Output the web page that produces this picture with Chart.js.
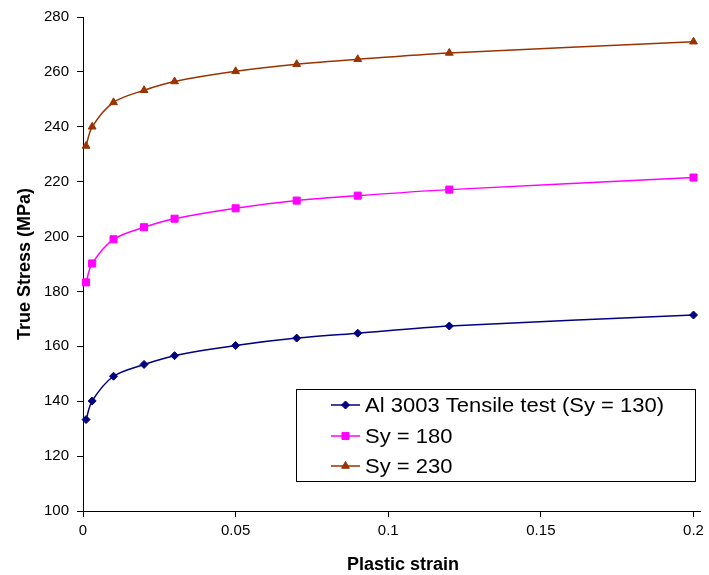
<!DOCTYPE html>
<html>
<head>
<meta charset="utf-8">
<title>Al 3003 true stress vs plastic strain</title>
<script src="https://cdn.jsdelivr.net/npm/chart.js@4/dist/chart.umd.min.js"></script>
<style>
  html, body { margin: 0; padding: 0; background: #fff; }
  #wrap { width: 709px; height: 575px; position: relative; }
</style>
</head>
<body>
<div id="wrap"><canvas id="c" width="709" height="575"></canvas></div>
<script>
// Plastic strain sample points shared by all three curves
const strain = [0.001, 0.003, 0.01, 0.02, 0.03, 0.05, 0.07, 0.09, 0.12, 0.2];

// True stress (MPa) for each yield-strength case
const stress130 = [133.3, 140.1, 149.1, 153.4, 156.6, 160.3, 163.0, 164.8, 167.4, 171.4];
const stress180 = [183.3, 190.2, 199.0, 203.4, 206.5, 210.3, 213.1, 214.9, 217.1, 221.5];
const stress230 = [233.0, 240.0, 248.9, 253.3, 256.5, 260.2, 262.8, 264.6, 266.9, 271.0];

const seriesNames = ['Al 3003 Tensile test (Sy = 130)', 'Sy = 180', 'Sy = 230'];

// Axis tick labels
const xTicks = [0, 0.05, 0.1, 0.15, 0.2];
const yTicks = [100, 120, 140, 160, 180, 200, 220, 240, 260, 280];

const xTitle = 'Plastic strain';
const yTitle = 'True Stress (MPa)';

const FONT = '"Liberation Sans", Arial, Helvetica, sans-serif';

function pairs(ys) {
  return strain.map((x, i) => ({ x: x, y: ys[i] }));
}

const styles = [
  { color: '#000080', pointStyle: 'rectRot', radius: 4 },
  { color: '#FF00FF', pointStyle: 'rect', radius: 5 },
  { color: '#993300', pointStyle: 'triangle', radius: 4.5 }
];
const seriesData = [stress130, stress180, stress230];

const datasets = seriesData.map((ys, i) => ({
  label: seriesNames[i],
  data: pairs(ys),
  borderColor: styles[i].color,
  backgroundColor: styles[i].color,
  pointBackgroundColor: styles[i].color,
  pointBorderColor: styles[i].color,
  pointStyle: styles[i].pointStyle,
  pointRadius: styles[i].radius,
  pointHoverRadius: styles[i].radius,
  pointBorderWidth: 1,
  borderWidth: 1.5,
  tension: 0.3,
  fill: false,
  clip: false
}));

// Axis titles and the boxed legend inside the plot area
const decorations = {
  id: 'decorations',
  afterDraw(chart) {
    const ctx = chart.ctx;
    const area = chart.chartArea;
    ctx.save();
    ctx.fillStyle = '#000';
    ctx.font = 'bold 18px ' + FONT;

    // x axis title
    ctx.textAlign = 'center';
    ctx.textBaseline = 'alphabetic';
    ctx.fillText(xTitle, 403, 570);

    // y axis title
    ctx.save();
    ctx.translate(25, (area.top + area.bottom) / 2);
    ctx.rotate(-Math.PI / 2);
    ctx.textBaseline = 'middle';
    ctx.fillText(yTitle, 0, 0);
    ctx.restore();

    // legend box
    const box = { left: 296.5, top: 389.5, width: 399, height: 92 };
    ctx.fillStyle = '#fff';
    ctx.fillRect(box.left, box.top, box.width, box.height);
    ctx.strokeStyle = '#000';
    ctx.lineWidth = 1;
    ctx.strokeRect(box.left, box.top, box.width, box.height);

    const rows = [405, 436, 466];
    ctx.font = '20px ' + FONT;
    ctx.textAlign = 'left';
    ctx.textBaseline = 'middle';
    chart.data.datasets.forEach((ds, i) => {
      const y = rows[i];
      ctx.strokeStyle = ds.borderColor;
      ctx.lineWidth = 1.5;
      ctx.beginPath();
      ctx.moveTo(331, y);
      ctx.lineTo(360, y);
      ctx.stroke();
      ctx.fillStyle = ds.pointBackgroundColor;
      ctx.strokeStyle = ds.pointBorderColor;
      ctx.lineWidth = 1;
      Chart.helpers.drawPoint(ctx, {
        pointStyle: ds.pointStyle,
        radius: ds.pointRadius,
        rotation: 0,
        borderWidth: 1
      }, 345.5, y);
      // legend labels are set slightly wide
      ctx.save();
      ctx.translate(365, y + 1);
      ctx.scale(1.1, 1);
      ctx.fillStyle = '#000';
      ctx.fillText(ds.label, 0, 0);
      ctx.restore();
    });
    ctx.restore();
  }
};

new Chart(document.getElementById('c'), {
  type: 'line',
  data: { datasets: datasets },
  plugins: [decorations],
  options: {
    responsive: false,
    animation: false,
    devicePixelRatio: 1,
    layout: { padding: { top: 15, right: 0, left: 0, bottom: 0 } },
    plugins: {
      legend: { display: false },
      tooltip: { enabled: false }
    },
    scales: {
      x: {
        type: 'linear',
        min: 0,
        max: 0.2023,
        afterBuildTicks(scale) { scale.ticks = xTicks.map(v => ({ value: v })); },
        afterFit(scale) { scale.height = 64; },
        ticks: {
          callback: v => String(v),
          font: { family: FONT, size: 15 },
          color: '#000',
          padding: 5,
          maxRotation: 0,
          autoSkip: false
        },
        grid: { drawOnChartArea: false, drawTicks: true, tickLength: 6, color: '#000' },
        border: { display: true, color: '#000', width: 1 }
      },
      y: {
        type: 'linear',
        min: 100,
        max: 280,
        afterBuildTicks(scale) { scale.ticks = yTicks.map(v => ({ value: v })); },
        afterFit(scale) { scale.width = 83; },
        ticks: {
          callback: v => String(v),
          font: { family: FONT, size: 15 },
          color: '#000',
          padding: 8,
          autoSkip: false
        },
        grid: { drawOnChartArea: false, drawTicks: true, tickLength: 6, color: '#000' },
        border: { display: true, color: '#000', width: 1 }
      }
    }
  }
});
</script>
</body>
</html>
